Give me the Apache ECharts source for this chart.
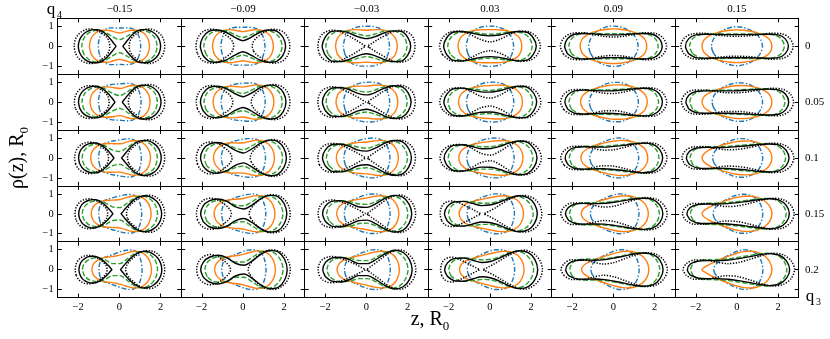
<!DOCTYPE html>
<html><head><meta charset="utf-8">
<script src="https://cdn.jsdelivr.net/npm/echarts@6/dist/echarts.min.js"></script>
<style>html,body{margin:0;padding:0;background:#fff}#c{width:830px;height:339px}</style>
</head><body><div id="c"></div>
<script>
// Column (q4) and row (q3) labels
const colTitles = ['\u22120.15', '\u22120.09', '\u22120.03', '0.03', '0.09', '0.15'];
const rowTitles = ['0', '0.05', '0.1', '0.15', '0.2'];
const xTicks = [-2, 0, 2];
const yTicks = [-1, 0, 1];
// Sample fractions along each shape's z-extent (shared by every curve)
const T = [0, .03, .1, .2, .3, .4, .5, .6, .7, .8, .9, .97, 1];
// Each entry: [zmin, zmax, rho at T[1..11]] ; split shapes = list of fragments. Row-major, 5 rows x 6 cols.
const blue = [
 [-1.03,1.03,.42,.75,.88,.92,.92,.91,.92,.92,.88,.75,.42],[-1.07,1.07,.40,.72,.88,.94,.95,.95,.95,.94,.88,.72,.40],[-1.12,1.12,.38,.70,.88,.96,1.0,1.0,1.0,.96,.88,.70,.38],[-1.15,1.15,.36,.66,.85,.95,1.0,1.01,1.0,.95,.85,.66,.36],[-1.2,1.2,.33,.60,.80,.92,.99,1.01,.99,.92,.80,.60,.33],[-1.24,1.24,.30,.56,.76,.88,.95,.98,.95,.88,.76,.56,.30],
 [-1.02,1.05,.41,.71,.83,.88,.90,.91,.93,.94,.90,.77,.43],[-1.06,1.08,.39,.68,.83,.89,.92,.94,.96,.96,.90,.74,.42],[-1.11,1.13,.37,.66,.82,.91,.97,.99,1.0,.97,.90,.73,.40],[-1.14,1.16,.35,.62,.80,.90,.97,.99,1.0,.96,.88,.69,.38],[-1.175,1.21,.31,.56,.75,.87,.95,.99,.99,.94,.83,.64,.35],[-1.21,1.245,.28,.52,.71,.84,.92,.97,.96,.91,.80,.60,.33],
 [-1.015,1.065,.40,.67,.77,.83,.87,.91,.94,.96,.93,.79,.45],[-1.05,1.095,.38,.64,.77,.85,.90,.94,.97,.97,.93,.77,.44],[-1.095,1.14,.36,.61,.77,.86,.93,.97,1.0,.98,.92,.75,.42],[-1.125,1.175,.34,.58,.75,.86,.94,.98,1.0,.98,.90,.72,.40],[-1.15,1.225,.29,.52,.70,.83,.92,.98,1.0,.96,.86,.67,.38],[-1.185,1.25,.26,.48,.67,.80,.90,.96,.97,.93,.83,.64,.35],
 [-1.01,1.08,.39,.62,.72,.79,.85,.90,.95,.97,.95,.80,.46],[-1.04,1.11,.37,.60,.72,.80,.87,.93,.97,.99,.95,.80,.45],[-1.08,1.15,.34,.57,.71,.81,.90,.96,.99,.99,.94,.78,.43],[-1.11,1.19,.32,.54,.69,.81,.90,.96,1.0,.99,.93,.75,.42],[-1.125,1.24,.27,.48,.65,.78,.88,.96,1.0,.97,.89,.71,.40],[-1.16,1.255,.24,.44,.62,.75,.87,.95,.98,.96,.87,.68,.38],
 [-1.0,1.1,.38,.58,.66,.74,.82,.90,.96,.99,.97,.82,.47],[-1.03,1.12,.36,.56,.66,.75,.84,.92,.98,1.0,.97,.82,.47],[-1.07,1.16,.33,.52,.65,.76,.86,.94,.99,1.0,.96,.80,.45],[-1.1,1.2,.31,.50,.64,.76,.87,.95,1.0,1.0,.95,.78,.44],[-1.1,1.25,.25,.44,.60,.73,.85,.95,1.0,.99,.92,.74,.42],[-1.13,1.26,.22,.40,.57,.71,.84,.94,.99,.98,.90,.72,.40]
];
const orange = [
 [-1.46,1.46,.40,.66,.80,.80,.73,.66,.73,.80,.80,.66,.40],[-1.48,1.48,.40,.66,.80,.83,.78,.73,.78,.83,.80,.66,.40],[-1.5,1.5,.40,.64,.79,.83,.82,.80,.82,.83,.79,.64,.40],[-1.55,1.55,.38,.60,.75,.81,.83,.83,.83,.81,.75,.60,.38],[-1.62,1.62,.35,.56,.71,.80,.85,.87,.85,.80,.71,.56,.35],[-1.7,1.7,.32,.52,.66,.75,.80,.82,.80,.75,.66,.52,.32],
 [-1.43,1.49,.38,.62,.75,.76,.72,.68,.76,.83,.83,.68,.41],[-1.455,1.505,.38,.62,.76,.79,.77,.75,.81,.86,.83,.68,.41],[-1.48,1.525,.37,.60,.74,.79,.80,.80,.84,.85,.82,.67,.41],[-1.53,1.58,.35,.56,.70,.77,.81,.83,.85,.84,.78,.63,.39],[-1.6,1.645,.31,.51,.66,.76,.82,.86,.86,.83,.75,.59,.36],[-1.7,1.7,.27,.45,.60,.70,.78,.82,.83,.79,.71,.56,.34],
 [-1.40,1.51,.35,.57,.70,.72,.71,.71,.79,.86,.85,.69,.41],[-1.43,1.53,.35,.58,.72,.76,.75,.76,.83,.89,.86,.70,.42],[-1.465,1.55,.34,.55,.69,.75,.78,.80,.85,.88,.85,.69,.42],[-1.515,1.605,.32,.52,.66,.73,.79,.83,.86,.87,.82,.66,.40],[-1.585,1.67,.28,.46,.61,.71,.79,.85,.88,.86,.79,.62,.38],[-1.7,1.7,.21,.39,.54,.66,.75,.82,.85,.84,.76,.60,.35],
 [-1.37,1.54,.33,.53,.65,.68,.69,.73,.82,.89,.88,.71,.42],[-1.405,1.555,.33,.54,.67,.72,.74,.78,.86,.91,.89,.72,.42],[-1.45,1.575,.31,.51,.63,.70,.75,.80,.87,.90,.87,.72,.42],[-1.5,1.63,.29,.48,.61,.69,.76,.82,.88,.90,.85,.69,.41],[-1.57,1.695,.24,.41,.55,.67,.76,.84,.89,.89,.82,.65,.39],[-1.7,1.7,.16,.32,.48,.61,.73,.82,.88,.88,.81,.63,.37],
 [-1.34,1.56,.30,.48,.60,.64,.68,.75,.85,.92,.90,.72,.42],[-1.38,1.58,.30,.50,.63,.68,.72,.79,.88,.94,.92,.74,.43],[-1.43,1.6,.28,.46,.58,.66,.73,.80,.88,.92,.90,.74,.43],[-1.48,1.66,.26,.44,.56,.65,.74,.82,.89,.92,.88,.72,.42],[-1.55,1.72,.20,.36,.50,.62,.73,.83,.90,.92,.86,.68,.40],[-1.7,1.7,.10,.25,.42,.57,.70,.82,.90,.92,.86,.67,.38]
];
const green = [
 [-1.83,1.83,.42,.68,.80,.72,.50,.33,.50,.72,.80,.68,.42],[-1.9,1.9,.42,.68,.79,.75,.57,.44,.57,.75,.79,.68,.42],[-1.97,1.97,.42,.68,.77,.73,.60,.52,.60,.73,.77,.68,.42],[-2.05,2.05,.40,.64,.72,.70,.63,.60,.63,.70,.72,.64,.40],[-2.17,2.17,.37,.58,.65,.64,.63,.63,.63,.64,.65,.58,.37],[-2.3,2.3,.36,.56,.62,.62,.61,.61,.61,.62,.62,.56,.36],
 [-1.82,1.84,.40,.64,.75,.67,.45,.32,.51,.75,.83,.70,.43],[-1.89,1.91,.41,.65,.75,.70,.52,.43,.58,.78,.83,.71,.43],[-1.96,1.98,.40,.65,.73,.69,.56,.50,.60,.75,.81,.71,.43],[-2.04,2.07,.39,.61,.69,.66,.60,.58,.64,.73,.77,.68,.41],[-2.16,2.19,.36,.56,.62,.61,.61,.63,.65,.68,.70,.62,.39],[-2.29,2.33,.35,.53,.59,.59,.60,.61,.63,.66,.67,.60,.38],
 [-1.815,1.84,.38,.61,.70,.61,.40,.32,.53,.77,.86,.72,.44],[-1.875,1.925,.39,.63,.72,.65,.48,.41,.59,.80,.87,.74,.44],[-1.945,1.995,.38,.61,.69,.64,.53,.49,.60,.78,.85,.74,.44],[-2.025,2.085,.37,.59,.65,.62,.56,.56,.64,.77,.82,.71,.43],[-2.145,2.21,.36,.54,.59,.58,.59,.63,.67,.72,.75,.67,.41],[-2.275,2.36,.34,.51,.56,.56,.58,.62,.66,.70,.72,.64,.40],
 [-1.81,1.85,.35,.57,.65,.56,.35,.31,.54,.80,.89,.74,.44],[-1.86,1.94,.38,.60,.68,.60,.43,.40,.59,.83,.91,.77,.45],[-1.93,2.01,.36,.58,.64,.60,.49,.47,.60,.80,.89,.77,.45],[-2.01,2.1,.36,.56,.62,.58,.53,.54,.65,.80,.87,.75,.44],[-2.13,2.23,.35,.52,.56,.55,.57,.62,.69,.76,.80,.71,.42],[-2.26,2.39,.33,.49,.53,.54,.57,.62,.68,.74,.77,.68,.41],
 [-1.80,1.85,.33,.53,.60,.50,.30,.30,.55,.82,.92,.76,.45],[-1.85,1.95,.36,.57,.64,.55,.38,.38,.60,.85,.95,.80,.46],[-1.92,2.02,.34,.54,.60,.55,.45,.45,.60,.82,.93,.80,.46],[-2.0,2.12,.34,.53,.58,.54,.49,.52,.65,.83,.92,.78,.45],[-2.12,2.25,.34,.50,.53,.52,.55,.62,.71,.80,.85,.75,.44],[-2.25,2.42,.32,.47,.50,.51,.55,.62,.70,.78,.82,.72,.43]
];
const black = [
 [[-2.0,-0.17,.30,.53,.70,.79,.83,.83,.78,.66,.48,.25,.08],[0.17,2.0,.08,.25,.48,.66,.78,.83,.83,.79,.70,.53,.30]],[-2.07,2.07,.45,.75,.81,.70,.46,.28,.46,.70,.81,.75,.45],[-2.15,2.15,.42,.73,.77,.67,.48,.38,.48,.67,.77,.73,.42],[-2.25,2.25,.40,.70,.74,.66,.56,.52,.56,.66,.74,.70,.40],[-2.37,2.37,.38,.60,.64,.62,.58,.57,.58,.62,.64,.60,.38],[-2.5,2.5,.37,.57,.60,.59,.58,.58,.58,.59,.60,.57,.37],
 [[-1.99,-0.22,.29,.51,.67,.75,.79,.79,.74,.62,.45,.24,.08],[0.14,2.02,.08,.25,.48,.66,.79,.85,.85,.81,.72,.54,.31]],[-2.065,2.09,.43,.72,.79,.68,.43,.27,.46,.72,.85,.78,.47],[-2.14,2.17,.41,.69,.73,.63,.44,.36,.49,.70,.82,.76,.44],[-2.24,2.27,.39,.66,.70,.61,.51,.50,.57,.70,.79,.74,.43],[-2.36,2.38,.36,.56,.60,.58,.56,.57,.61,.66,.69,.64,.40],[-2.48,2.515,.35,.53,.56,.56,.56,.57,.60,.63,.65,.61,.39],
 [[-1.985,-0.27,.28,.49,.64,.72,.75,.75,.69,.58,.42,.22,.07],[0.11,2.03,.08,.25,.48,.67,.80,.87,.88,.84,.74,.56,.31]],[-2.06,2.11,.42,.69,.77,.65,.39,.25,.46,.74,.89,.82,.49],[-2.135,2.185,.39,.66,.70,.59,.39,.34,.50,.74,.87,.80,.46],[-2.225,2.285,.37,.63,.66,.57,.46,.47,.58,.74,.85,.78,.45],[-2.345,2.39,.34,.53,.56,.55,.54,.58,.63,.70,.74,.68,.42],[-2.455,2.53,.33,.50,.53,.52,.53,.57,.61,.67,.70,.65,.40],
 [[-1.98,-0.32,.26,.47,.61,.68,.71,.70,.65,.54,.39,.21,.07],[0.08,2.05,.07,.25,.48,.67,.81,.88,.90,.86,.76,.57,.32]],[-2.055,2.13,.40,.65,.74,.63,.36,.24,.45,.76,.92,.85,.50],[-2.13,2.2,.38,.62,.66,.54,.35,.32,.51,.77,.92,.83,.48],[-2.21,2.3,.36,.59,.62,.52,.41,.45,.59,.78,.90,.81,.48],[-2.33,2.4,.32,.49,.52,.51,.52,.58,.66,.74,.78,.71,.43],[-2.43,2.545,.30,.46,.49,.49,.51,.56,.63,.70,.75,.68,.42],
 [[-1.97,-0.37,.25,.45,.58,.65,.67,.66,.60,.50,.36,.19,.06],[0.05,2.06,.07,.25,.48,.67,.82,.90,.92,.88,.77,.58,.32]],[-2.05,2.15,.38,.62,.72,.60,.32,.22,.45,.78,.96,.88,.52],[-2.12,2.22,.36,.58,.62,.50,.30,.30,.52,.80,.97,.86,.50],[-2.2,2.32,.34,.55,.58,.47,.36,.42,.60,.82,.95,.85,.50],[-2.32,2.41,.30,.45,.48,.47,.50,.58,.68,.78,.83,.75,.45],[-2.41,2.56,.28,.42,.45,.45,.48,.55,.64,.74,.80,.72,.43]
];
const dotted = [
 [[-2.2,-0.47,.32,.55,.72,.81,.86,.86,.82,.74,.62,.48,.28],[0.47,2.2,.28,.48,.62,.74,.82,.86,.86,.81,.72,.55,.32]],[[-2.28,-0.45,.33,.58,.75,.82,.85,.84,.78,.68,.54,.40,.22],[0.45,2.28,.22,.40,.54,.68,.78,.84,.85,.82,.75,.58,.33]],[[-2.36,-0.05,.38,.62,.75,.80,.78,.70,.58,.45,.31,.16,.05],[0.05,2.36,.05,.16,.31,.45,.58,.70,.78,.80,.75,.62,.38]],[-2.45,2.45,.42,.70,.76,.60,.35,.22,.35,.60,.76,.70,.42],[-2.58,2.58,.40,.64,.68,.60,.50,.46,.50,.60,.68,.64,.40],[-2.73,2.73,.40,.62,.65,.58,.52,.50,.52,.58,.65,.62,.40],
 [[-2.19,-0.5,.31,.53,.70,.78,.82,.82,.78,.70,.58,.45,.26],[0.43,2.2,.27,.47,.61,.74,.83,.88,.88,.84,.75,.57,.33]],[[-2.27,-0.49,.32,.56,.73,.80,.83,.81,.75,.65,.52,.38,.20],[0.4,2.285,.21,.40,.57,.71,.82,.87,.88,.85,.77,.60,.34]],[[-2.36,-0.05,.37,.60,.72,.77,.74,.66,.55,.43,.30,.16,.05],[0.04,2.37,.05,.17,.32,.48,.62,.75,.83,.85,.78,.63,.38]],[-2.44,2.47,.40,.66,.72,.56,.30,.20,.36,.64,.81,.73,.43],[-2.57,2.59,.38,.61,.63,.55,.45,.43,.51,.64,.72,.67,.41],[-2.7,2.75,.38,.59,.61,.53,.47,.47,.52,.61,.69,.65,.41],
 [[-2.18,-0.53,.30,.52,.67,.75,.79,.78,.74,.66,.55,.41,.24],[0.39,2.2,.25,.45,.61,.75,.85,.90,.91,.87,.77,.59,.34]],[[-2.265,-0.53,.31,.54,.70,.78,.80,.79,.73,.63,.50,.35,.18],[0.35,2.29,.21,.41,.59,.74,.85,.91,.92,.88,.80,.61,.34]],[[-2.355,-0.05,.35,.57,.69,.73,.70,.63,.52,.41,.28,.15,.05],[0.03,2.38,.05,.17,.34,.50,.66,.79,.88,.89,.82,.64,.38]],[-2.43,2.5,.38,.62,.68,.52,.24,.14,.36,.68,.86,.76,.44],[-2.565,2.6,.35,.57,.59,.49,.39,.41,.53,.67,.77,.70,.42],[-2.675,2.765,.35,.55,.57,.48,.41,.43,.52,.64,.74,.68,.42],
 [[-2.16,-0.57,.29,.50,.65,.72,.75,.74,.70,.62,.51,.38,.22],[0.34,2.2,.24,.44,.60,.75,.86,.92,.93,.90,.80,.60,.34]],[[-2.26,-0.56,.31,.52,.68,.75,.78,.76,.70,.60,.47,.33,.17],[0.3,2.295,.20,.41,.62,.77,.89,.95,.95,.92,.82,.62,.35]],[[-2.35,-0.05,.34,.55,.66,.70,.66,.59,.49,.38,.27,.14,.04],[0.01,2.39,.05,.18,.35,.53,.70,.84,.92,.94,.85,.65,.37]],[[-2.42,-0.45,.32,.52,.62,.64,.60,.52,.42,.32,.22,.11,.04],[-0.3,2.52,.04,.14,.30,.48,.66,.80,.90,.92,.86,.68,.40]],[-2.56,2.61,.33,.54,.54,.44,.34,.38,.54,.71,.81,.73,.43],[-2.65,2.78,.33,.52,.52,.43,.36,.40,.52,.67,.78,.71,.43],
 [[-2.15,-0.6,.28,.48,.62,.69,.71,.70,.66,.58,.47,.34,.20],[0.3,2.2,.22,.42,.60,.76,.88,.94,.95,.92,.82,.62,.35]],[[-2.25,-0.6,.30,.50,.65,.73,.76,.74,.68,.58,.45,.30,.15],[0.25,2.3,.20,.42,.64,.80,.92,.98,.99,.95,.84,.64,.36]],[[-2.35,-0.05,.32,.52,.63,.66,.62,.55,.46,.36,.25,.13,.04],[0.0,2.4,.05,.18,.36,.55,.74,.88,.97,.98,.88,.66,.37]],[[-2.4,-0.5,.30,.50,.60,.62,.58,.50,.40,.30,.20,.10,.03],[-0.35,2.55,.04,.14,.30,.48,.66,.82,.94,.98,.90,.68,.38]],[-2.55,2.62,.30,.50,.50,.38,.28,.36,.55,.74,.85,.76,.44],[-2.62,2.8,.30,.48,.48,.38,.30,.36,.52,.70,.82,.74,.44]
];

const FONT = '"Liberation Serif","DejaVu Serif",serif';
const NR = 5, NC = 6;
const L0 = 57.7, T0 = 18.3, CW = 123.5, RH = 55.85;
const fmt = v => (v < 0 ? '\u2212' : '') + Math.abs(v);

function frags(e) { return Array.isArray(e[0]) ? e : [e]; }
function poly(f) {
  const z0 = f[0], z1 = f[1];
  const v = [0].concat(f.slice(2), [0]);
  const up = T.map((t, i) => [z0 + (z1 - z0) * t, v[i]]);
  const pts = [[up[1][0], -up[1][1]]];
  for (let i = 0; i < up.length; i++) pts.push(up[i]);
  for (let i = up.length - 2; i >= 1; i--) pts.push([up[i][0], -up[i][1]]);
  return pts;
}

const curves = [
  {d: blue,   color: '#1f77b4', type: [5, 2, 1.4, 2], w: 1.4, z: 2},
  {d: orange, color: '#ff7f0e', type: 'solid', w: 1.4, z: 3},
  {d: green,  color: '#2ca02c', type: [5, 2.2], w: 1.4, z: 4},
  {d: dotted, color: '#000000', type: [1.3, 1.5], w: 1.5, z: 5},
  {d: black,  color: '#000000', type: 'solid', w: 1.4, z: 6}
];

const grids = [], xAxes = [], yAxes = [], series = [];
for (let r = 0; r < NR; r++) {
  for (let c = 0; c < NC; c++) {
    const g = r * NC + c;
    grids.push({left: L0 + c * CW, top: T0 + r * RH, width: CW, height: RH});
    const line = {show: true, onZero: false, lineStyle: {color: '#000', width: 1}};
    const tick = vals => ({show: true, inside: true, length: 4, customValues: vals, lineStyle: {color: '#000', width: 1}});
    const lab = (show, vals) => ({show: show, customValues: vals, formatter: fmt, fontFamily: FONT, fontSize: 10.5, color: '#000', margin: 4});
    xAxes.push({gridIndex: g, type: 'value', min: -3, max: 3, position: 'bottom', axisLine: line, axisTick: tick(xTicks), splitLine: {show: false}, axisLabel: lab(r === NR - 1, xTicks)});
    xAxes.push({gridIndex: g, type: 'value', min: -3, max: 3, position: 'top', axisLine: line, axisTick: tick(xTicks), splitLine: {show: false}, axisLabel: {show: false}});
    yAxes.push({gridIndex: g, type: 'value', min: -1.4, max: 1.4, position: 'left', axisLine: line, axisTick: tick(yTicks), splitLine: {show: false}, axisLabel: lab(c === 0, yTicks)});
    yAxes.push({gridIndex: g, type: 'value', min: -1.4, max: 1.4, position: 'right', axisLine: line, axisTick: tick(yTicks), splitLine: {show: false}, axisLabel: {show: false}});
    curves.forEach(cv => {
      frags(cv.d[g]).forEach(f => {
        series.push({
          type: 'line', xAxisIndex: 2 * g, yAxisIndex: 2 * g, data: poly(f),
          showSymbol: false, symbol: 'none', smooth: 0.3, silent: true, animation: false, z: cv.z,
          lineStyle: {color: cv.color, width: cv.w, type: cv.type}
        });
      });
    });
  }
}

const graphic = [];
colTitles.forEach((t, c) => graphic.push({type: 'text', x: L0 + c * CW + CW / 2, y: 9,
  style: {text: t, fill: '#000', fontFamily: FONT, fontSize: 11, align: 'center', verticalAlign: 'middle'}}));
rowTitles.forEach((t, r) => graphic.push({type: 'text', x: 805, y: T0 + r * RH + RH / 2,
  style: {text: t, fill: '#000', fontFamily: FONT, fontSize: 11, align: 'left', verticalAlign: 'middle'}}));
graphic.push({type: 'text', x: 51, y: 10, style: {text: 'q', fill: '#000', fontFamily: FONT, fontSize: 17, align: 'center', verticalAlign: 'middle'}});
graphic.push({type: 'text', x: 59.5, y: 15, style: {text: '4', fill: '#000', fontFamily: FONT, fontSize: 10, align: 'center', verticalAlign: 'middle'}});
graphic.push({type: 'text', x: 810, y: 297, style: {text: 'q', fill: '#000', fontFamily: FONT, fontSize: 17, align: 'center', verticalAlign: 'middle'}});
graphic.push({type: 'text', x: 818.5, y: 302, style: {text: '3', fill: '#000', fontFamily: FONT, fontSize: 10, align: 'center', verticalAlign: 'middle'}});
graphic.push({type: 'text', x: 430, y: 322, style: {
  text: '{m|z, R}{s|0}', align: 'center', verticalAlign: 'middle',
  rich: {m: {fontFamily: FONT, fontSize: 20, fill: '#000', verticalAlign: 'top', lineHeight: 24},
         s: {fontFamily: FONT, fontSize: 13, fill: '#000', verticalAlign: 'top', lineHeight: 24, padding: [10, 0, 0, 0]}}}});
graphic.push({type: 'text', x: 20, y: 158, rotation: Math.PI / 2, style: {
  text: '{m|\u03c1(z), R}{s|0}', align: 'center', verticalAlign: 'middle',
  rich: {m: {fontFamily: FONT, fontSize: 20, fill: '#000', verticalAlign: 'top', lineHeight: 24},
         s: {fontFamily: FONT, fontSize: 13, fill: '#000', verticalAlign: 'top', lineHeight: 24, padding: [10, 0, 0, 0]}}}});

const chart = echarts.init(document.getElementById('c'), null, {renderer: 'canvas'});
chart.setOption({animation: false, backgroundColor: '#fff', grid: grids, xAxis: xAxes, yAxis: yAxes, series: series, graphic: graphic});
</script></body></html>
